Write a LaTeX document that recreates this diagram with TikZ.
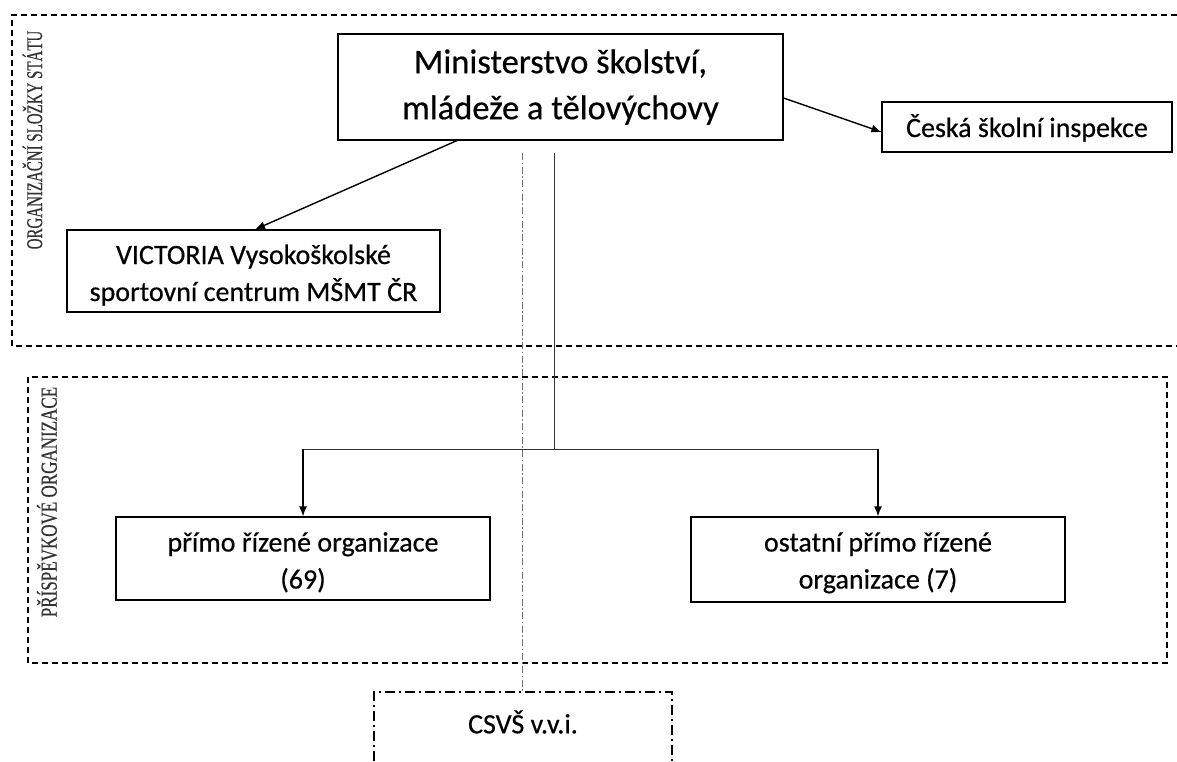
\documentclass[tikz,border=0pt]{standalone}
\usepackage{fontspec}
\setmainfont{Carlito}[FakeBold=0.5]
\newfontfamily\labelserif{Liberation Serif}[FakeBold=0.6]
\usetikzlibrary{arrows.meta}
\begin{document}
\begin{tikzpicture}[x=1pt,y=-1pt,
  box/.style={draw=black, line width=1.1pt, align=center, inner sep=0pt},
  bigtext/.style={font=\fontsize{34.5}{46}\selectfont},
  smalltext/.style={font=\fontsize{28}{37}\selectfont},
  group/.style={draw=black, line width=1.3pt, dash pattern=on 6pt off 4pt},
  dashdotbox/.style={draw=black, line width=1.3pt, dash pattern=on 10pt off 4pt on 2pt off 4pt},
  ddline/.style={draw=black!55, line width=0.9pt, dash pattern=on 7pt off 2.5pt on 1.5pt off 2.5pt},
  conn/.style={draw=black, line width=1.4pt, -{Latex[length=10pt,width=8pt]}},
  thin/.style={draw=black!80, line width=0.9pt},
  grouplabel/.style={text=black!80, rotate=90, inner sep=0pt}
]
\useasboundingbox (0,0) rectangle (1177,761);

% group frames
\draw[group] (1177,15) -- (12,15) -- (12,346) -- (1177,346);
\draw[group] (28,377) rectangle (1167,663);

% group labels
\node[grouplabel] (lab1) at (32.5,140) {\scalebox{0.665}[1]{\labelserif\fontsize{22.5}{26}\selectfont ORGANIZAČNÍ SLOŽKY STÁTU}};
\node[grouplabel] (lab2) at (47,502) {\scalebox{0.74}[1]{\labelserif\fontsize{23}{26}\selectfont PŘÍSPĚVKOVÉ ORGANIZACE}};

% boxes
\node[box, bigtext, minimum width=445pt, minimum height=106pt] (mest) at (560.5,87) {Ministerstvo školství,\\mládeže a tělovýchovy};
\node[box, smalltext, minimum width=290pt, minimum height=50pt, text height=26pt, text depth=6pt] (csi) at (1027,127) {Česká školní inspekce};
\node[box, smalltext, minimum width=373pt, minimum height=82pt, text height=66pt, text depth=6pt] (vic) at (253.5,271) {VICTORIA Vysokoškolské\\sportovní centrum MŠMT ČR};
\node[box, smalltext, minimum width=374pt, minimum height=83pt, text height=67pt, text depth=7pt] (primo) at (303,558.5) {přímo řízené organizace\\(69)};
\node[box, smalltext, minimum width=374pt, minimum height=85pt, text height=64pt, text depth=6pt] (ostatni) at (878,559.5) {ostatní přímo řízené\\organizace (7)};

% CSVS open box
\draw[dashdotbox] (374,761) -- (374,692) -- (672,692) -- (672,761);
\node[smalltext, inner sep=0pt] (csvs) at (523,722) {CSVŠ v.v.i.};

% connectors
\draw[conn] ([yshift=-11pt]mest.east) -- ([yshift=-5pt]csi.west);
\draw[conn] ([xshift=-103.5pt]mest.south) -- ([xshift=1.5pt]vic.north);

\coordinate (stem) at (554,153);
\coordinate (junction) at (554,449);
\draw[thin] (stem) -- (junction);
\draw[thin] (junction) -- (junction -| primo.north) ;
\draw[thin] (junction) -- (junction -| ostatni.north);
\draw[conn] (junction -| primo.north) -- (primo.north);
\draw[conn] (junction -| ostatni.north) -- (ostatni.north);

\coordinate (ddtop) at (522,153);
\coordinate (csvstop) at (522,692);
\draw[ddline] (ddtop) -- (csvstop);
\end{tikzpicture}
\end{document}
